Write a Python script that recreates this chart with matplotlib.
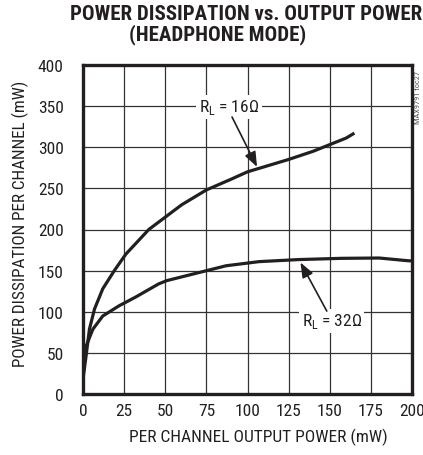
import matplotlib
matplotlib.use("Agg")
import matplotlib.pyplot as plt

# Data
out_16 = [0, 0.3, 1.9, 3.9, 7, 12, 19, 26, 40, 50, 60, 75, 90, 100, 115, 125, 140, 150, 160, 165]
diss_16 = [15, 23, 47, 79, 103.5, 128, 150, 170, 200, 215, 230, 248, 261, 270, 279, 285, 295, 303, 311, 317]

out_32 = [0, 0.5, 2, 6, 12, 22, 32, 46, 51, 65, 77, 87, 107, 131, 157, 180, 198, 200]
diss_32 = [15, 35, 59, 79, 95, 107.5, 118, 134, 138, 145, 151, 156, 161, 163.5, 165, 165.4, 162, 162]

x_ticks = [0, 25, 50, 75, 100, 125, 150, 175, 200]
y_ticks = [0, 50, 100, 150, 200, 250, 300, 350, 400]

title_1 = "POWER DISSIPATION vs. OUTPUT POWER"
title_2 = "(HEADPHONE MODE)"
x_label = "PER CHANNEL OUTPUT POWER (mW)"
y_label = "POWER DISSIPATION PER CHANNEL (mW)"
label_16 = "R$_\\mathregular{L}$ = 16\u03a9"
label_32 = "R$_\\mathregular{L}$ = 32\u03a9"

FONT = ['Roboto Condensed', 'Archivo Narrow', 'DejaVu Sans']
plt.rcParams['font.family'] = FONT
plt.rcParams['mathtext.fontset'] = 'custom'
plt.rcParams['mathtext.rm'] = 'Roboto Condensed'

TXT = '#231f20'
W, H = 423, 456
fig = plt.figure(figsize=(W / 100, H / 100), dpi=100)
ax = fig.add_axes([83 / W, (H - 395.3) / H, 329 / W, 329.6 / H])

ax.plot(out_16, diss_16, color=TXT, lw=2.3, solid_capstyle='butt', zorder=3)
ax.plot(out_32, diss_32, color=TXT, lw=2.3, solid_capstyle='butt', zorder=3)

ax.set_xlim(0, 200)
ax.set_ylim(0, 400)
ax.set_xticks(x_ticks)
ax.set_yticks(y_ticks)
ax.set_xticklabels([str(v) for v in x_ticks])
ax.set_yticklabels([str(v) for v in y_ticks])
ax.tick_params(length=0, labelsize=12.5, colors=TXT)
ax.tick_params(axis='y', pad=14)
ax.tick_params(axis='x', pad=6)
ax.grid(True, color='#333333', lw=0.9, zorder=1)
ax.set_axisbelow(True)
for s in ax.spines.values():
    s.set_linewidth(2.4)
    s.set_color(TXT)

ax.set_xlabel(x_label, fontsize=12.5, color=TXT)
ax.set_ylabel(y_label, fontsize=12.3, color=TXT)
ax.xaxis.set_label_coords(0.532, -(437.5 - 395.3) / 329.6)
ax.yaxis.set_label_coords(-(83 - 20) / 329, 0.52)
ax.xaxis.label.set_va('center')
ax.yaxis.label.set_va('center')

fig.text(246 / W, 1 - 14.5 / H, title_1, ha='center', va='center',
         fontsize=15, fontweight='heavy', color=TXT)
fig.text(218 / W, 1 - 34.5 / H, title_2, ha='center', va='center',
         fontsize=15, fontweight='heavy', color=TXT)

fig.text(418 / W, 1 - 97 / H, "MAX9791 toc27", rotation=90, ha='center', va='center',
         fontsize=6, color='#555555')

bbox = dict(boxstyle='square,pad=0.15', fc='white', ec='none')
ax.text(88.8, 349, label_16, ha='center', va='center', fontsize=12.5, color=TXT,
        bbox=bbox, zorder=4)
ax.text(151.2, 89, label_32, ha='center', va='center', fontsize=12.5, color=TXT,
        bbox=bbox, zorder=4)

arrow = dict(arrowstyle='-|>,head_length=0.9,head_width=0.35', color=TXT, lw=1.2,
             shrinkA=0, shrinkB=0)
ax.annotate('', xy=(105.8, 276), xytext=(90.6, 336.5), arrowprops=arrow, zorder=5)
ax.annotate('', xy=(132.2, 160), xytext=(148.2, 101), arrowprops=arrow, zorder=5)

fig.savefig('out.png', dpi=100)
